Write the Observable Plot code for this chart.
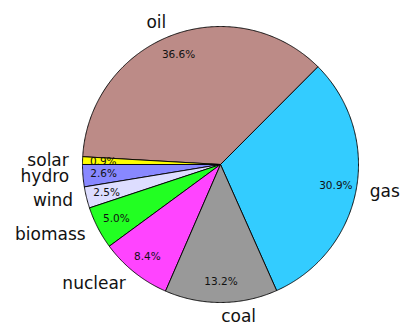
<!DOCTYPE html>
<html>
<head>
<meta charset="utf-8">
<script src="https://cdn.jsdelivr.net/npm/d3@7"></script>
<script src="https://cdn.jsdelivr.net/npm/@observablehq/plot@0.6"></script>
<style>
  html, body { margin: 0; padding: 0; background: #fff; }
  svg { overflow: visible; }
</style>
</head>
<body>
<div id="chart"></div>
<script>
// Data (counter-clockwise order starting from gas)
const sources = ["gas", "oil", "solar", "hydro", "wind", "biomass", "nuclear", "coal"];
const shares  = [30.9, 36.6, 0.9, 2.6, 2.5, 5.0, 8.4, 13.2];
const colors  = ["#33ccff", "#bc8b87", "#ffff00", "#8888ff", "#ddddff", "#22ff22", "#ff44ff", "#999999"];

const startDeg = -66.0; // math angle (ccw from east) where gas begins
const total = d3.sum(shares);

const wedgePts = [];
const labels = [];
let a0 = startDeg;
sources.forEach((name, i) => {
  const span = shares[i] / total * 360;
  const a1 = a0 + span;
  const n = Math.max(2, Math.ceil(span / 0.5));
  wedgePts.push({name, x: 0, y: 0});
  for (let k = 0; k <= n; k++) {
    const t = (a0 + span * k / n) * Math.PI / 180;
    wedgePts.push({name, x: Math.cos(t), y: Math.sin(t)});
  }
  wedgePts.push({name, x: 0, y: 0});
  const m = (a0 + a1) / 2 * Math.PI / 180;
  labels.push({
    name,
    pct: shares[i].toFixed(1) + "%",
    lx: 1.1 * Math.cos(m), ly: 1.1 * Math.sin(m),
    px: 0.85 * Math.cos(m), py: 0.85 * Math.sin(m)
  });
  a0 = a1;
});

const font = "DejaVu Sans, sans-serif";
const chart = Plot.plot({
  width: 411,
  height: 323,
  marginLeft: 82,
  marginRight: 53,
  marginTop: 26,
  marginBottom: 21,
  x: {domain: [-1, 1], axis: null},
  y: {domain: [-1, 1], axis: null},
  color: {domain: sources, range: colors},
  style: {fontFamily: font, background: "#fff", overflow: "visible"},
  marks: [
    Plot.line(wedgePts, {x: "x", y: "y", z: "name", fill: "name", stroke: "black", strokeWidth: 0.9, strokeLinejoin: "round"}),
    Plot.text(labels.filter(d => d.lx >= 0), {x: "lx", y: "ly", text: "name", textAnchor: "start", fontSize: 17, fill: "#111"}),
    Plot.text(labels.filter(d => d.lx < 0), {x: "lx", y: "ly", text: "name", textAnchor: "end", fontSize: 17, fill: "#111"}),
    Plot.text(labels, {x: "px", y: "py", text: "pct", fontSize: 10.5, fill: "#111"})
  ]
});
document.getElementById("chart").appendChild(chart);
</script>
</body>
</html>
